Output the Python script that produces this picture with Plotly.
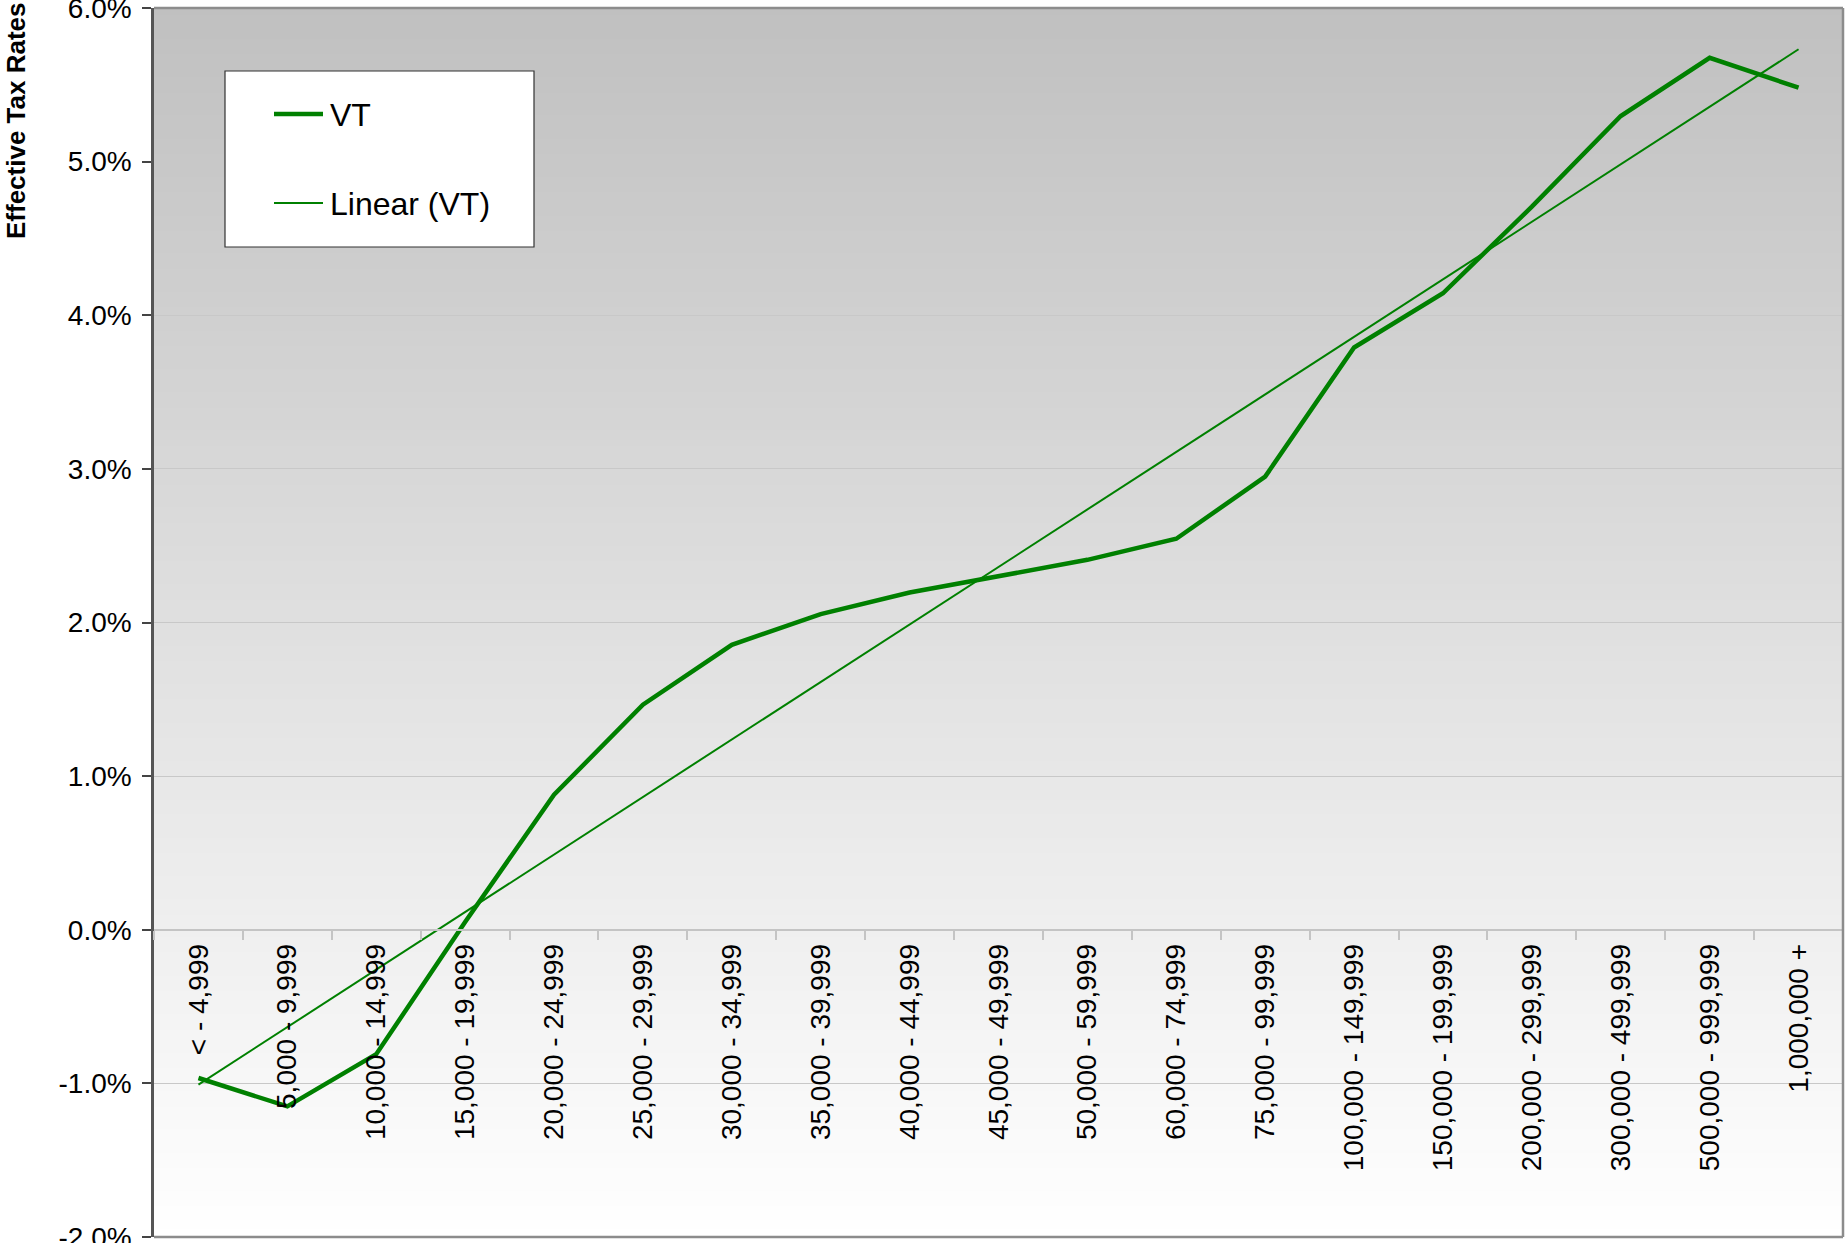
import numpy as np
import plotly.graph_objects as go

# ---------------- data ----------------
categories = ["< - 4,999", "5,000 - 9,999", "10,000 - 14,999", "15,000 - 19,999",
              "20,000 - 24,999", "25,000 - 29,999", "30,000 - 34,999", "35,000 - 39,999",
              "40,000 - 44,999", "45,000 - 49,999", "50,000 - 59,999", "60,000 - 74,999",
              "75,000 - 99,999", "100,000 - 149,999", "150,000 - 199,999",
              "200,000 - 299,999", "300,000 - 499,999", "500,000 - 999,999", "1,000,000 +"]
vt_rates = [-0.965, -1.15, -0.81, 0.05, 0.879, 1.465, 1.855, 2.055, 2.195, 2.30,
            2.408, 2.545, 2.95, 3.79, 4.143, 4.707, 5.297, 5.676, 5.481]
y_tick_vals = [-2, -1, 0, 1, 2, 3, 4, 5, 6]
y_tick_text = ["-2.0%", "-1.0%", "0.0%", "1.0%", "2.0%", "3.0%", "4.0%", "5.0%", "6.0%"]
series_name = "VT"
trend_name = "Linear (VT)"
y_title = "Effective Tax Rates"

# linear trendline (least squares on category index, as Excel does)
idx = np.arange(1, len(vt_rates) + 1)
slope, intercept = np.polyfit(idx, vt_rates, 1)
trend = list(slope * idx + intercept)

# ---------------- layout geometry (pixels) ----------------
W, H = 1845, 1243
ML, MR, MT, MB = 154, 2, 8, 6
PW, PH = W - ML - MR, H - MT - MB
FONT = "Liberation Sans, Arial, sans-serif"
GREEN = "#008000"


def px_x(p):
    return (p - ML) / PW


def px_y(p):
    return (H - MB - p) / PH


fig = go.Figure()
fig.add_trace(go.Scatter(x=categories, y=vt_rates, mode="lines", name=series_name,
                         line=dict(color=GREEN, width=4.5), showlegend=False))
fig.add_trace(go.Scatter(x=categories, y=trend, mode="lines", name=trend_name,
                         line=dict(color=GREEN, width=2), showlegend=False))

shapes = []
# gradient background (gray at top -> white at bottom)
N = 160
for i in range(N):
    c = (i + 0.5) / N
    v = int(round(255 - 63 * c))
    shapes.append(dict(type="rect", xref="x domain", yref="y domain",
                       x0=0, x1=1, y0=i / N, y1=min(1, (i + 1) / N + 0.002),
                       fillcolor=f"rgb({v},{v},{v})", line=dict(width=0), layer="below"))
# plot borders (top, right, bottom)
for (x0, y0, x1, y1) in [(0, 1, 1, 1), (1, 0, 1, 1), (0, 0, 1, 0)]:
    shapes.append(dict(type="line", xref="paper", yref="paper", x0=x0, y0=y0, x1=x1, y1=y1,
                       line=dict(color="#8c8c8c", width=2.5), layer="above"))
# manual legend box
shapes.append(dict(type="rect", xref="paper", yref="paper",
                   x0=px_x(225), x1=px_x(534), y0=px_y(247), y1=px_y(71),
                   fillcolor="white", line=dict(color="#333333", width=1.2), layer="above"))
shapes.append(dict(type="line", xref="paper", yref="paper",
                   x0=px_x(274), x1=px_x(323), y0=px_y(114), y1=px_y(114),
                   line=dict(color=GREEN, width=4.5), layer="above"))
shapes.append(dict(type="line", xref="paper", yref="paper",
                   x0=px_x(274), x1=px_x(323), y0=px_y(203), y1=px_y(203),
                   line=dict(color=GREEN, width=2), layer="above"))

annotations = [
    dict(text=series_name, xref="paper", yref="paper", x=px_x(328), y=px_y(115),
         xanchor="left", yanchor="middle", showarrow=False,
         font=dict(family=FONT, size=32, color="black")),
    dict(text=trend_name, xref="paper", yref="paper", x=px_x(328), y=px_y(204),
         xanchor="left", yanchor="middle", showarrow=False,
         font=dict(family=FONT, size=32, color="black")),
    dict(text=f"<b>{y_title}</b>", xref="paper", yref="paper", x=px_x(16), y=px_y(121),
         xanchor="center", yanchor="middle", textangle=-90, showarrow=False,
         font=dict(family=FONT, size=26, color="black")),
]

fig.update_layout(
    width=W, height=H, autosize=False,
    margin=dict(l=ML, r=MR, t=MT, b=MB, pad=0, autoexpand=False),
    paper_bgcolor="white", plot_bgcolor="rgba(0,0,0,0)",
    font=dict(family=FONT, size=28, color="black"),
    shapes=shapes, annotations=annotations, showlegend=False,
    xaxis=dict(type="category", anchor="free", position=0.25, range=[-0.5, len(categories) - 0.5],
               automargin=False,
               showline=True, linecolor="#c4c4c4", linewidth=2,
               ticks="outside", tickson="boundaries", ticklen=9, tickcolor="#c4c4c4", tickwidth=1.5,
               tickangle=-90, ticklabelstandoff=2, showgrid=False, zeroline=False,
               tickfont=dict(family=FONT, size=28, color="black")),
    yaxis=dict(range=[-2, 6], tickvals=y_tick_vals, ticktext=y_tick_text,
               automargin=False,
               showline=True, linecolor="#555555", linewidth=2.5,
               ticks="outside", ticklen=9, tickcolor="#444444", tickwidth=1.5,
               ticklabelstandoff=5, ticklabeloverflow="allow",
               showgrid=True, gridcolor="#c8c8c8", gridwidth=1, zeroline=False,
               tickfont=dict(family=FONT, size=28, color="black")),
)

fig.write_html("out.html", include_plotlyjs=True, config={"displayModeBar": False},
               post_script="document.body.style.margin='0';document.body.style.overflow='hidden';")
